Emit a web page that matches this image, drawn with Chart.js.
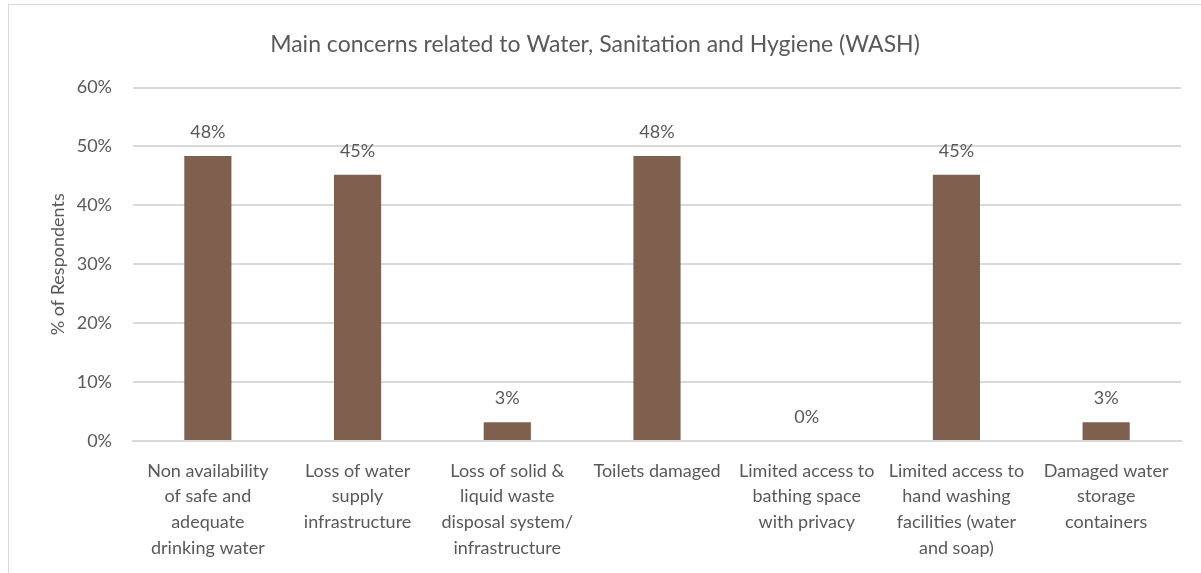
<!DOCTYPE html>
<html>
<head>
<meta charset="utf-8">
<script src="https://cdn.jsdelivr.net/npm/chart.js@4"></script>
<style>
  body { margin: 0; background: #fff; }
  #frame {
    position: absolute;
    left: 8px;
    top: 4px;
    width: 1193px;
    height: 569px;
    border-top: 1px solid #d9d9d9;
    border-left: 1px solid #d9d9d9;
  }
  #wrap { position: absolute; left: 0; top: 0; width: 1192px; height: 568px; }
</style>
</head>
<body>
<div id="frame"><div id="wrap"><canvas id="washChart"></canvas></div></div>
<script>
// WASH survey: share of respondents per concern
const categories = [
    ['Non availability', 'of safe and', 'adequate', 'drinking water'],
    ['Loss of water', 'supply', 'infrastructure'],
    ['Loss of solid &', 'liquid waste', 'disposal system/', 'infrastructure'],
    ['Toilets damaged'],
    ['Limited access to', 'bathing space', 'with privacy'],
    ['Limited access to', 'hand washing', 'facilities (water', 'and soap)'],
    ['Damaged water', 'storage', 'containers']
];
const percentRespondents = [48.4, 45.2, 3.2, 48.4, 0, 45.2, 3.2];
const yTicks = [0, 10, 20, 30, 40, 50, 60];

const textColor = '#595959';
const gridColor = '#d9d9d9';
const barColor = '#7f604f';
const fontFamily = 'Lato, "Noto Sans", sans-serif';

// value labels above each bar
const valueLabels = {
    id: 'valueLabels',
    afterDatasetsDraw(chart) {
        const ctx = chart.ctx;
        const meta = chart.getDatasetMeta(0);
        ctx.save();
        ctx.fillStyle = textColor;
        ctx.font = '18px ' + fontFamily;
        ctx.textAlign = 'center';
        ctx.textBaseline = 'middle';
        meta.data.forEach((bar, i) => {
            ctx.fillText(Math.round(percentRespondents[i]) + '%', bar.x, bar.y - 24);
        });
        ctx.restore();
    }
};

new Chart(document.getElementById('washChart'), {
    type: 'bar',
    data: {
        labels: categories,
        datasets: [{
            data: percentRespondents,
            backgroundColor: barColor,
            categoryPercentage: 1,
            barPercentage: 0.315
        }]
    },
    options: {
        responsive: true,
        maintainAspectRatio: false,
        animation: false,
        layout: { padding: { left: 0, right: 20, top: 0, bottom: 0 } },
        plugins: {
            legend: { display: false },
            tooltip: { enabled: false },
            title: {
                display: true,
                text: 'Main concerns related to Water, Sanitation and Hygiene (WASH)',
                color: textColor,
                font: { family: fontFamily, size: 23, weight: 'normal' },
                padding: { top: 26, bottom: 29 }
            }
        },
        scales: {
            x: {
                grid: { display: false },
                border: { display: true, color: gridColor, width: 2 },
                ticks: {
                    color: textColor,
                    font: { family: fontFamily, size: 18, lineHeight: 1.43 },
                    maxRotation: 0,
                    autoSkip: false,
                    padding: 9
                },
                afterFit(scale) { scale.height = 132; }
            },
            y: {
                min: 0,
                max: 60,
                afterBuildTicks(scale) {
                    scale.ticks = yTicks.map(v => ({ value: v }));
                },
                grid: { color: gridColor, lineWidth: 2, drawTicks: false },
                border: { display: false },
                ticks: {
                    color: textColor,
                    font: { family: fontFamily, size: 18 },
                    padding: 21,
                    callback: v => v + '%'
                },
                title: {
                    display: true,
                    text: '% of Respondents',
                    color: textColor,
                    font: { family: fontFamily, size: 18 },
                    padding: { top: 38, bottom: 0 }
                },
                afterFit(scale) { scale.width = 124; }
            }
        }
    },
    plugins: [valueLabels]
});
</script>
</body>
</html>
